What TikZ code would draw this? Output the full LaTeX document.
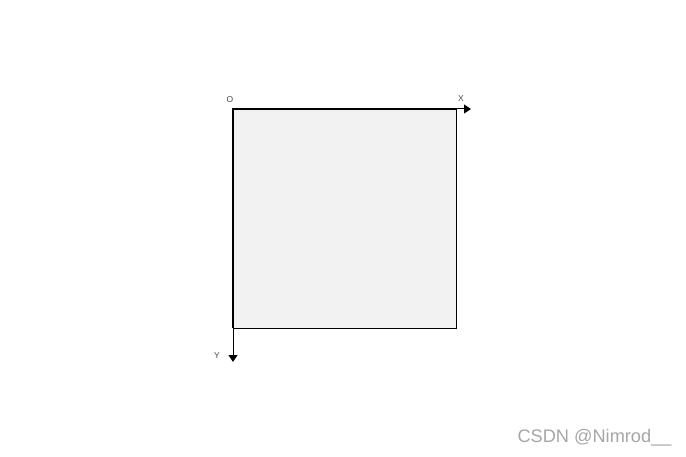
\documentclass[tikz,border=0pt]{standalone}
\usepackage{fontspec}
\setmainfont{Liberation Sans}
\usetikzlibrary{arrows.meta}
\definecolor{boxfill}{HTML}{F2F2F2}
\definecolor{wm}{HTML}{A6A6A6}
\tikzset{
  axis/.style={line width=1pt, -{Triangle[length=7pt,width=9pt]}},
  lbl/.style={font=\fontsize{8.5pt}{9pt}\selectfont, text=black!70, inner sep=0pt},
}
\begin{document}
\begin{tikzpicture}[x=1pt,y=-1pt]
\useasboundingbox (0,0) rectangle (686,457);
\draw[fill=boxfill, line width=0.8pt] (233,109) rectangle (456,328);
\coordinate (o) at (233,109);
\coordinate (xend) at (471,109);
\coordinate (yend) at (233,362);
\draw[axis] (o) -- (xend);
\draw[axis] (o) -- (yend);
\draw[line width=1.6pt] (233,328) -- (233,109) -- (456,109);
\node[lbl] (O) at (230,100) {O};
\node[lbl] (X) at (461,99) {X};
\node[lbl] (Y) at (217,356) {Y};
\node[font=\fontsize{18.2pt}{20pt}\selectfont, text=wm, inner sep=0pt] (w) at (594.5,438) {CSDN @Nimrod\_\_};
\end{tikzpicture}
\end{document}
